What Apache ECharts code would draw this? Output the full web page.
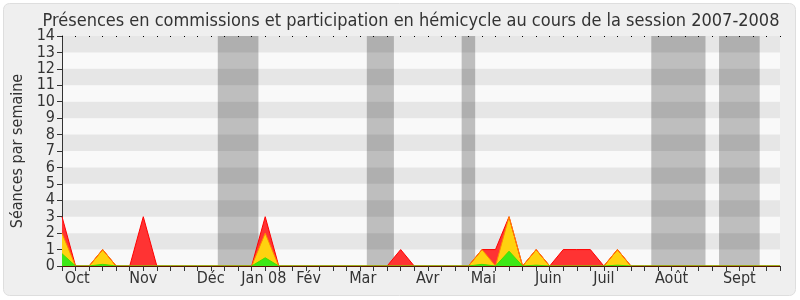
<!DOCTYPE html>
<html>
<head>
<meta charset="utf-8">
<script src="https://cdn.jsdelivr.net/npm/echarts@6/dist/echarts.min.js"></script>
<style>
html,body{margin:0;padding:0;background:#fff;}
#c{width:800px;height:300px;}
</style>
</head>
<body>
<div id="c"></div>
<script>
// Weekly index 0..53 of the 2007-2008 session
const weeks = Array.from({length: 54}, (_, i) => i);
// Total (commissions + hémicycle) - red
const redVals = [3,0,0,1,0,0,3,0,0,0,0,0,0,0,0,3,0,0,0,0,0,0,0,0,0,1,0,0,0,0,0,1,1,3,0,1,0,1,1,1,0,1,0,0,0,0,0,0,0,0,0,0,0,0];
// Hémicycle - yellow
const yellowVals = [2,0,0,1,0,0,0,0,0,0,0,0,0,0,0,2,0,0,0,0,0,0,0,0,0,0,0,0,0,0,0,1,0,3,0,1,0,0,0,0,0,1,0,0,0,0,0,0,0,0,0,0,0,0];
// Participation - green
const greenVals = [0.75,0,0,0.1,0,0,0,0,0,0,0,0,0,0,0,0.5,0,0,0,0,0,0,0,0,0,0,0,0,0,0,0,0.1,0,0.9,0,0.05,0,0,0,0,0,0.05,0,0,0,0,0,0,0,0,0,0,0,0];
// Month labels and their positions on the week scale
const monthLabels = ['Oct','Nov','Déc','Jan 08','Fév','Mar','Avr','Mai','Juin','Juil','Août','Sept'];
const monthPos = [1.13,6.0,10.97,14.9,18.2,22.2,27.0,31.1,35.9,40.0,45.0,50.0];
// Vacation periods (parliament not sitting), in week units
const vacStart = [11.5,22.5,29.5,43.5,48.5];
const vacEnd = [14.5,24.5,30.5,47.5,51.5];
const yTicks = [0,1,2,3,4,5,6,7,8,9,10,11,12,13,14];

const font = 'DejaVu Sans Condensed';
const chart = echarts.init(document.getElementById('c'), null, {renderer: 'canvas'});

function pairs(vals){ return weeks.map((w,i)=>[w, vals[i]]); }

chart.setOption({
  animation: false,
  backgroundColor: 'transparent',
  graphic: [{
    type: 'rect', z: -10, silent: true,
    shape: {x: 3.5, y: 3.5, width: 792, height: 292, r: 6},
    style: {fill: '#efefef', stroke: '#dedede', lineWidth: 1}
  }],
  title: {
    text: 'Présences en commissions et participation en hémicycle au cours de la session 2007-2008',
    left: 406, top: 7, textAlign: 'center',
    textStyle: {fontFamily: font, fontSize: 18, fontWeight: 'normal', color: '#333'}
  },
  grid: {left: 62, right: 20, top: 36, bottom: 34, show: true, backgroundColor: '#f9f9f9', borderWidth: 0},
  xAxis: [{
    type: 'value', min: 0, max: 53, interval: 1, position: 'bottom', z: 5,
    axisLine: {show: true, lineStyle: {color: '#5a1500', width: 1}},
    axisTick: {show: true, length: 5, lineStyle: {color: '#333'}},
    splitLine: {show: false},
    axisLabel: {
      show: true, customValues: monthPos, margin: 5,
      fontFamily: font, fontSize: 16, color: '#333',
      formatter: function(v){
        let best = 0, d = 1e9;
        monthPos.forEach((p,i)=>{ if (Math.abs(p-v) < d){ d = Math.abs(p-v); best = i; } });
        return monthLabels[best];
      }
    }
  },{
    type: 'value', min: 0, max: 53, interval: 1, position: 'top', z: 5,
    axisLine: {show: false},
    axisTick: {show: true, inside: true, length: 1, lineStyle: {color: '#000'}},
    axisLabel: {show: false},
    splitLine: {show: false}
  }],
  yAxis: {
    type: 'value', min: 0, max: 14, interval: 1, z: 3,
    name: 'Séances par semaine', nameLocation: 'middle', nameGap: 34, nameRotate: 90,
    nameTextStyle: {fontFamily: font, fontSize: 16, color: '#333'},
    axisLine: {show: true, lineStyle: {color: '#333'}},
    axisTick: {show: true, length: 5, lineStyle: {color: '#333'}},
    axisLabel: {fontFamily: font, fontSize: 16, color: '#333', margin: 7,
      customValues: yTicks},
    splitLine: {show: false},
    splitArea: {show: true, areaStyle: {color: ['rgba(0,0,0,0)', 'rgba(0,0,0,0.075)']}}
  },
  series: [{
    type: 'line', z: 1, data: [], silent: true,
    markArea: {
      silent: true,
      itemStyle: {color: '#bebebe'},
      data: vacStart.map((s,i)=>[{xAxis: s}, {xAxis: vacEnd[i]}])
    }
  },{
    name: 'Commissions', type: 'line', z: 4, data: pairs(redVals),
    symbol: 'none', lineStyle: {color: '#ff0000', width: 1},
    areaStyle: {color: '#ff3333', opacity: 1}
  },{
    name: 'Hémicycle', type: 'line', z: 4, data: pairs(yellowVals),
    symbol: 'none', lineStyle: {color: '#ff8800', width: 1},
    areaStyle: {color: '#ffd20f', opacity: 1}
  },{
    name: 'Participation', type: 'line', z: 4, data: pairs(greenVals),
    symbol: 'none', lineStyle: {color: '#44dd00', width: 1},
    areaStyle: {color: '#3de817', opacity: 1}
  }]
});
</script>
</body>
</html>
